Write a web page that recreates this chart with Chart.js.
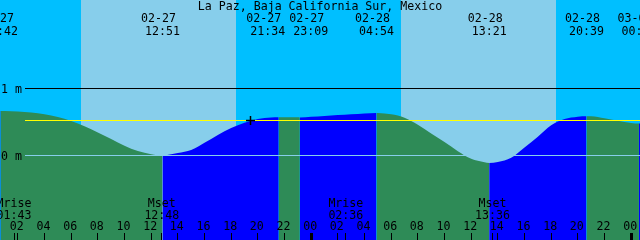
<!DOCTYPE html>
<html>
<head>
<meta charset="utf-8">
<title>La Paz tides</title>
<script src="https://cdn.jsdelivr.net/npm/chart.js@4.4.1/dist/chart.umd.min.js"></script>
<style>
  html, body { margin: 0; padding: 0; background: #00bfff; }
  canvas { display: block; }
</style>
</head>
<body>
<canvas id="tideChart" width="640" height="240"></canvas>
<script>
const title = 'La Paz, Baja California Sur, Mexico';

// tide height (m) every hour, hours counted from 02-27 00:00
const hourlyTimes = [0, 1, 2, 3, 4, 5, 6, 7, 8, 9, 10, 11, 12, 13, 14, 15, 16, 17, 18, 19, 20, 21, 22, 23, 24,
  25, 26, 27, 28, 29, 30, 31, 32, 33, 34, 35, 36, 37, 38, 39, 40, 41, 42, 43, 44, 45, 46, 47, 48, 49];
const hourlyHeights = [0.665, 0.664, 0.656, 0.641, 0.615, 0.575, 0.516, 0.438, 0.345, 0.247, 0.147, 0.066, 0.02,
  0.001, 0.036, 0.083, 0.19, 0.307, 0.41, 0.488, 0.544, 0.567, 0.5715, 0.5695, 0.578,
  0.59, 0.603, 0.616, 0.628, 0.6355, 0.615, 0.565, 0.46, 0.33, 0.2, 0.065, -0.05, -0.10, -0.098, -0.035,
  0.12, 0.28, 0.45, 0.545, 0.58, 0.586, 0.556, 0.518, 0.486, 0.479];

// high / low tides
const tideEvents = ['02-27 00:42', '02-27 12:51', '02-27 21:34', '02-27 23:09',
  '02-28 04:54', '02-28 13:21', '02-28 20:39', '03-01 00:35'];
const tideHeights = [0.666, 0.0, 0.572, 0.569, 0.636, -0.11, 0.587, 0.478];
const tideKinds = ['H', 'L', 'H', 'L', 'H', 'L', 'H', 'L'];

const sunRise = ['02-27 06:44', '02-28 06:44'];
const sunSet = ['02-27 18:22', '02-28 18:22'];

const moonEvents = ['02-27 01:43', '02-27 12:48', '02-28 02:36', '02-28 13:36'];
const moonNames = ['Mrise', 'Mset', 'Mrise', 'Mset'];

const levelValues = [1, 0];
const levelLabels = ['1 m', '0 m'];
const markLevel = 0.522;
const markTime = ['02-27 19:27'];

const hourTicks = [2, 4, 6, 8, 10, 12, 14, 16, 18, 20, 22, 24, 26, 28, 30, 32, 34, 36, 38, 40, 42, 44, 46, 48];
const hourLabels = ['02', '04', '06', '08', '10', '12', '14', '16', '18', '20', '22', '00',
  '02', '04', '06', '08', '10', '12', '14', '16', '18', '20', '22', '00'];

const NIGHT = '#00bfff';
const DAY = '#87ceeb';
const FALLING = '#2e8b57';
const RISING = '#0000ff';
const FONT = '11.6px "DejaVu Sans Mono", "Liberation Mono", monospace';

function toHours(s) {
  const days = { '02-27': 0, '02-28': 1, '03-01': 2 };
  const d = days[s.slice(0, 5)];
  const h = parseInt(s.slice(6, 8), 10);
  const m = parseInt(s.slice(9, 11), 10);
  return d * 24 + h + m / 60;
}

const eventHours = tideEvents.map(toHours);

const tidePoints = hourlyTimes.map((t, i) => ({ x: t, y: hourlyHeights[i] }))
  .concat(eventHours.map((t, i) => ({ x: t, y: tideHeights[i] })))
  .sort((a, b) => a.x - b.x);

function segmentColor(ctx) {
  const t = ctx.p1.parsed.x;
  let idx = eventHours.findIndex(e => e >= t - 1e-6);
  let rising;
  if (idx === -1) rising = tideKinds[tideKinds.length - 1] === 'L';
  else rising = tideKinds[idx] === 'H';
  return rising ? RISING : FALLING;
}

const decorPlugin = {
  id: 'tideDecor',
  beforeDatasetsDraw(chart) {
    const { ctx, chartArea: a, scales: { x } } = chart;
    ctx.save();
    ctx.fillStyle = NIGHT;
    ctx.fillRect(a.left, a.top, a.width, a.height);
    ctx.fillStyle = DAY;
    sunRise.forEach((r, i) => {
      const x0 = Math.round(x.getPixelForValue(toHours(r)));
      const x1 = Math.round(x.getPixelForValue(toHours(sunSet[i])));
      ctx.fillRect(x0, a.top, x1 - x0, a.height);
    });
    ctx.restore();
  },
  afterDatasetDraw(chart, args) {
    if (args.index !== 0) return;
    const { ctx, chartArea: a, scales: { y } } = chart;
    ctx.save();
    const colors = ['#000000', '#87ceeb'];
    levelValues.forEach((v, i) => {
      ctx.fillStyle = colors[i];
      ctx.fillRect(a.left + 25, Math.floor(y.getPixelForValue(v)), a.width - 25, 1);
    });
    ctx.fillStyle = '#ffff00';
    ctx.fillRect(a.left + 25, Math.floor(y.getPixelForValue(markLevel)), a.width - 25, 1);
    ctx.restore();
  },
  afterDraw(chart) {
    const { ctx, chartArea: a, scales: { x, y } } = chart;
    ctx.save();
    ctx.font = FONT;
    ctx.fillStyle = '#000';
    ctx.textBaseline = 'alphabetic';

    ctx.textAlign = 'center';
    ctx.fillText(title, a.left + a.width / 2, 10);

    // tide event labels, pushed apart where they would collide
    const xs = eventHours.map(t => x.getPixelForValue(t));
    const minGap = 43;
    for (let i = 1; i < xs.length; i++) {
      const d = xs[i] - xs[i - 1];
      if (d < minGap) {
        const s = (minGap - d) / 2;
        xs[i - 1] -= s;
        xs[i] += s;
      }
    }
    tideEvents.forEach((ev, i) => {
      ctx.fillText(ev.slice(0, 5), xs[i] - 4, 22);
      ctx.fillText(ev.slice(6), xs[i], 34.5);
    });

    // level labels
    ctx.textAlign = 'left';
    levelValues.forEach((v, i) => {
      ctx.fillText(levelLabels[i], a.left + 1, y.getPixelForValue(v) + 4);
    });

    // moon rise / set
    ctx.textAlign = 'center';
    moonEvents.forEach((ev, i) => {
      const mx = x.getPixelForValue(toHours(ev));
      ctx.fillText(moonNames[i], mx, 206.5);
      ctx.fillText(ev.slice(6), mx, 218.5);
      ctx.fillRect(Math.floor(mx), a.bottom - 7, 1, 7);
    });

    // hour ticks
    hourTicks.forEach((t, i) => {
      const hx = x.getPixelForValue(t);
      ctx.fillText(hourLabels[i], hx - 1, 230);
      const thick = t % 24 === 0;
      ctx.fillRect(Math.floor(hx) - (thick ? 1 : 0), a.bottom - 7, thick ? 3 : 1, 7);
    });
    ctx.restore();
  }
};

new Chart(document.getElementById('tideChart'), {
  type: 'line',
  data: {
    datasets: [
      {
        label: 'Tide',
        data: tidePoints,
        fill: 'start',
        borderWidth: 0,
        pointRadius: 0,
        cubicInterpolationMode: 'monotone',
        backgroundColor: FALLING,
        borderColor: FALLING,
        segment: { backgroundColor: segmentColor, borderColor: segmentColor },
        order: 0
      },
      {
        type: 'scatter',
        label: 'Mark',
        data: markTime.map(t => ({ x: toHours(t), y: markLevel })),
        pointStyle: 'cross',
        pointRadius: 4.5,
        borderWidth: 1.5,
        borderColor: '#000',
        backgroundColor: '#000',
        clip: false,
        order: -1
      }
    ]
  },
  options: {
    responsive: false,
    animation: false,
    events: [],
    layout: { padding: 0, autoPadding: false },
    plugins: { legend: { display: false }, tooltip: { enabled: false }, title: { display: false } },
    scales: {
      x: { type: 'linear', min: 0.6625, max: 48.6625, display: false },
      y: { min: -1.261, max: 2.321, display: false }
    }
  },
  plugins: [decorPlugin]
});
</script>
</body>
</html>
